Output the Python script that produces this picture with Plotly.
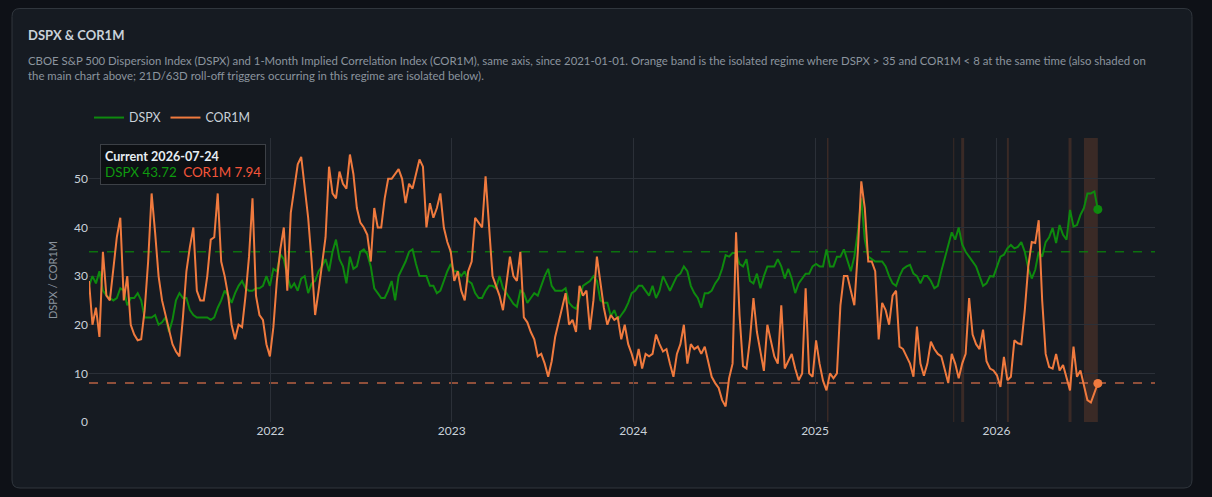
import pandas as pd
import plotly.graph_objects as go

# weekly (Friday) readings of both indices, 2021-01-01 .. 2026-07-24
dspx_2021 = [28, 30, 28.5, 31, 27, 26, 25.5, 25, 25.5, 27.5, 27, 24, 25.5, 25.5, 26.5, 25, 21.5, 21.5, 21.5, 22,
             20, 20.5, 21.5, 18.5, 21, 25, 26.5, 25.5, 25.5, 23, 22, 21.5, 21.5, 21.5, 21.5, 21, 21.5, 23.5, 25, 27,
             26, 24.5, 26.5, 28, 29, 27.5, 27, 27, 27.5, 27.5, 28, 30]
dspx_2022 = [28, 31.5, 31, 34.5, 33.5, 30, 27.5, 28.5, 27, 29.5, 30, 26.5, 28.5, 29, 31, 32, 33.5, 31, 35, 37.5,
             33.5, 32, 28.5, 34, 31.5, 32, 35, 35.5, 34.5, 32, 27.5, 26.5, 25.5, 25.5, 27, 29, 25, 30, 31.5, 33,
             35, 35.5, 32.5, 30, 30, 30, 28, 28, 26.5, 27, 29, 31]
dspx_2023 = [32.5, 31, 31, 30, 31, 29, 28.5, 26.5, 25.5, 25.5, 27, 28, 28, 27.5, 30, 27.5, 26.5, 25.5, 24.3, 23.7,
             27, 26.5, 24.5, 25.5, 26.5, 26, 28, 30, 31.5, 28, 27, 27, 27, 27.5, 24.5, 23.7, 23.3, 25.5, 28, 28.5,
             29, 30, 29, 25, 24.5, 24.5, 21.8, 23, 21, 22, 23, 24.5]
dspx_2024 = [26.5, 27, 28, 28, 27, 26, 28, 25.5, 27, 30, 28.5, 27, 28.5, 30, 30.5, 32, 31, 28, 26.5, 25.5,
             23.5, 26.5, 26.5, 27, 28.5, 29.5, 31.5, 34.3, 34, 34.8, 34.7, 32.5, 32, 33.5, 29, 28.5, 30.5, 27.5, 30, 32,
             32, 32, 33.5, 32, 29.5, 31.5, 29.5, 26.5, 28.5, 29.5, 30.5, 30.5]
dspx_2025 = [32, 32.5, 32, 32, 35.5, 32, 32, 34, 34, 35.5, 33, 31, 34, 39, 46, 37.5, 34, 33.5, 33, 33,
             33, 32, 30, 28.5, 28, 30, 31.5, 32, 32.3, 30.5, 30, 28.5, 30, 30, 29, 27.5, 28, 31, 33.5, 36,
             39, 37.5, 40, 36.5, 35, 34, 33, 32, 30, 28, 28.5, 30]
dspx_2026 = [29.9, 32, 34, 34.4, 35.7, 36.4, 35.7, 36, 37, 35, 31.6, 29.5, 31.3, 35, 34, 37, 38, 39.9, 36.8, 40.5,
             38.5, 37.5, 43.6, 40.2, 40.5, 42.6, 44, 47, 47, 47.4, 43.72]

cor1m_2021 = [29, 20, 23.5, 17.5, 35, 26, 25, 31, 38, 42, 25, 30, 20, 18, 16.8, 17, 23, 33, 47, 39,
              30, 25, 22, 19, 16, 14.5, 13.5, 21.5, 31, 36, 40, 27, 25, 25, 30, 37.5, 38, 47, 33, 30,
              26, 20, 17, 20, 19.5, 26, 34, 46, 26, 22, 21, 16]
cor1m_2022 = [13.5, 19.5, 29, 35.5, 40, 27, 43, 48, 53, 54.5, 48, 42, 33, 22, 27, 33, 38, 52.5, 47, 46,
              51.5, 49, 48, 55, 51, 44, 41, 40, 38.5, 33, 44, 40, 40, 46, 50, 50, 51, 52, 50, 45,
              49, 48, 51, 54, 52.5, 40, 45, 42, 44, 47, 40, 37]
cor1m_2023 = [35, 29, 31, 27, 25, 31, 33, 42, 41, 40, 50.5, 40, 30, 28, 26, 23, 29, 34, 30, 29,
              35, 21.5, 20.5, 18.5, 17, 13.5, 14, 12, 9.3, 12.5, 17.5, 20.5, 24, 26.5, 20, 21, 18.5, 28, 26, 27,
              19, 25, 34, 29, 23.5, 20, 22, 21, 21.5, 17, 20, 16]
cor1m_2024 = [14, 11.5, 15, 11, 14, 13.5, 14, 18, 16, 14.5, 15, 12, 9.3, 14, 16, 20, 12, 16, 15, 15.5,
              14, 15.5, 12.5, 9.3, 8, 7, 4.5, 3.2, 9, 12, 39, 22, 11.5, 11, 17, 25.5, 18.5, 14.5, 10.5, 20,
              16.5, 13.5, 12, 24, 11, 12.5, 14, 11, 8.6, 10, 27.5, 10]
cor1m_2025 = [9.3, 16.8, 12, 8.5, 6.5, 10, 9, 10, 24, 30, 30, 27, 24, 35, 49.5, 44, 33, 33, 31, 17,
              24.5, 23, 20, 26, 27, 15.5, 15, 13.5, 12, 9.3, 19.6, 12, 9.5, 12, 16.5, 15, 14, 13.5, 10.8, 8,
              14, 12, 9, 12, 14, 25.5, 18, 16, 15, 19, 12.5, 11]
cor1m_2026 = [10.6, 9.6, 7.2, 13.4, 8.6, 9.3, 16.8, 16.2, 16, 23, 32, 37, 36.8, 41.5, 25, 14, 11.3, 11, 14, 10.6,
              11.7, 8.9, 6.5, 15.5, 9.3, 10.6, 7.2, 4.5, 4, 6, 7.94]

dspx = dspx_2021 + dspx_2022 + dspx_2023 + dspx_2024 + dspx_2025 + dspx_2026
cor1m = cor1m_2021 + cor1m_2022 + cor1m_2023 + cor1m_2024 + cor1m_2025 + cor1m_2026
dates = pd.date_range("2021-01-01", "2026-07-24", freq="W-FRI")

# DSPX > 35 and COR1M < 8 regime windows
band_start = ["2025-01-25", "2025-10-06", "2025-10-22", "2026-01-22", "2026-05-26", "2026-06-26"]
band_end = ["2025-01-28", "2025-10-08", "2025-10-28", "2026-01-26", "2026-06-01", "2026-07-24"]
dspx_level = 35
cor1m_level = 8

year_ticks = ["2022-01-01", "2023-01-01", "2024-01-01", "2025-01-01", "2026-01-01"]
year_labels = ["2022", "2023", "2024", "2025", "2026"]

W, H = 1212, 497
L, R, T, B = 89, 1155, 138, 422   # plot area in pixels


def px_x(p):
    return (p - L) / (R - L)


def px_y(p):
    return (B - p) / (B - T)


GREEN = "#0e8a0e"
ORANGE = "#f07a3e"
TEXT = "#c9d1d9"
MUTED = "#8b949e"
GRID = "#2b3038"

fig = go.Figure()
fig.add_trace(go.Scatter(x=dates, y=dspx, name="DSPX", mode="lines",
                         line=dict(color=GREEN, width=2)))
fig.add_trace(go.Scatter(x=dates, y=cor1m, name="COR1M", mode="lines",
                         line=dict(color=ORANGE, width=2)))
fig.add_trace(go.Scatter(x=[dates[-1]], y=[dspx[-1]], mode="markers", showlegend=False,
                         marker=dict(color=GREEN, size=9)))
fig.add_trace(go.Scatter(x=[dates[-1]], y=[cor1m[-1]], mode="markers", showlegend=False,
                         marker=dict(color=ORANGE, size=9)))

# card behind everything (rounded rectangle)
x0, x1, y0, y1 = px_x(12), px_x(1192), px_y(488), px_y(8.5)
rx, ry = 8 / (R - L), 8 / (B - T)
card = (f"M {x0 + rx},{y1} L {x1 - rx},{y1} Q {x1},{y1} {x1},{y1 - ry} "
        f"L {x1},{y0 + ry} Q {x1},{y0} {x1 - rx},{y0} L {x0 + rx},{y0} "
        f"Q {x0},{y0} {x0},{y0 + ry} L {x0},{y1 - ry} Q {x0},{y1} {x0 + rx},{y1} Z")
shapes = [dict(type="path", path=card, xref="paper", yref="paper", layer="below",
               fillcolor="#161b22", line=dict(color="#30363d", width=1))]
for s, e in zip(band_start, band_end):
    shapes.append(dict(type="rect", xref="x", yref="paper", x0=s, x1=e, y0=0, y1=1, layer="below",
                       fillcolor="rgba(240,120,60,0.17)", line=dict(width=0)))
shapes.append(dict(type="line", xref="paper", yref="y", x0=0, x1=1, y0=dspx_level, y1=dspx_level,
                   layer="below", line=dict(color="rgba(10,128,10,0.85)", width=1.5, dash="dash")))
shapes.append(dict(type="line", xref="paper", yref="y", x0=0, x1=1, y0=cor1m_level, y1=cor1m_level,
                   layer="below", line=dict(color="rgba(225,115,75,0.8)", width=1.5, dash="dash")))

desc = ("CBOE S&amp;P 500 Dispersion Index (DSPX) and 1-Month Implied Correlation Index (COR1M), same axis, "
        "since 2021-01-01. Orange band is the isolated regime where DSPX &gt; 35 and COR1M &lt; 8 at the same "
        "time (also shaded on<br>the main chart above; 21D/63D roll-off triggers occurring in this regime are "
        "isolated below).")
current = (f"<b>Current {dates[-1]:%Y-%m-%d}</b><br>"
           f"<span style='color:#0f9a0f;font-size:13.4px'>DSPX {dspx[-1]:.2f}</span>&nbsp;&nbsp;"
           f"<span style='color:#f4553a;font-size:13.4px'>COR1M {cor1m[-1]:.2f}</span>")

annotations = [
    dict(text="<b>DSPX &amp; COR1M</b>", x=px_x(26), y=px_y(35), xref="paper", yref="paper",
         xanchor="left", yanchor="middle", showarrow=False, font=dict(size=13, color=TEXT)),
    dict(text=desc, x=px_x(25.5), y=px_y(52), xref="paper", yref="paper", align="left",
         xanchor="left", yanchor="top", showarrow=False, font=dict(size=11.4, color=MUTED)),
    dict(text=current, x=px_x(99.5), y=px_y(143.5), xref="paper", yref="paper", align="left",
         xanchor="left", yanchor="top", showarrow=False, font=dict(size=12.6, color="#e6edf3"),
         bgcolor="#0d1014", bordercolor="#3c4046", borderwidth=1, borderpad=4),
]

fig.update_layout(
    width=W, height=H, autosize=False,
    margin=dict(l=L, r=W - R, t=T, b=H - B, pad=0),
    paper_bgcolor="#0e1117", plot_bgcolor="rgba(0,0,0,0)",
    font=dict(family="Lato, sans-serif", size=12, color=TEXT),
    shapes=shapes, annotations=annotations,
    showlegend=True,
    legend=dict(orientation="h", x=0, y=px_y(133), xanchor="left", yanchor="bottom",
                bgcolor="rgba(0,0,0,0)", font=dict(size=12.4, color=TEXT)),
    xaxis=dict(type="date", range=["2021-01-01", "2026-11-16"], tickvals=year_ticks, ticktext=year_labels,
               showgrid=True, gridcolor=GRID, zeroline=False, showline=False, ticks=""),
    yaxis=dict(range=[0, 58.4], dtick=10, tick0=0, showgrid=True, gridcolor=GRID, zeroline=False,
               showline=False, ticks="",
               title=dict(text="DSPX / COR1M", font=dict(size=11, color=MUTED), standoff=14)),
    hovermode="x unified",
)

fig.write_html("out.html", config={"displayModeBar": False},
               post_script="document.body.style.margin='0';document.body.style.overflow='hidden';")
